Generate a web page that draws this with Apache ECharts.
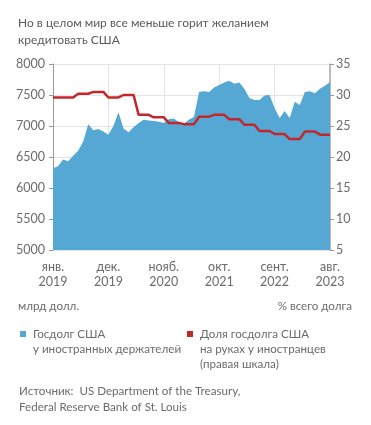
<!DOCTYPE html>
<html><head><meta charset="utf-8">
<script src="https://cdn.jsdelivr.net/npm/echarts@6/dist/echarts.min.js"></script>
<style>html,body{margin:0;padding:0;background:#fff}#c{width:371px;height:425px}</style>
</head><body><div id="c"></div>
<script>
var monthNames = ['янв.','февр.','март','апр.','май','июнь','июль','авг.','сент.','окт.','нояб.','дек.'];
var years = [2019, 2020, 2021, 2022, 2023];
var categories = [];
years.forEach(function(y){ monthNames.forEach(function(m, k){ if (y < 2023 || k <= 7) categories.push(m + '\n' + y); }); });

var foreignHoldings = [6320,6350,6460,6430,6520,6600,6750,7030,6930,6950,6910,6860,7000,7220,6960,6900,6980,7050,7100,7090,7080,7070,7050,7110,7120,7060,7040,7100,7150,7550,7560,7550,7620,7660,7700,7730,7680,7700,7600,7450,7420,7420,7490,7500,7290,7130,7240,7130,7390,7340,7550,7560,7530,7600,7650,7710];
var foreignShare = [29.6,29.6,29.6,29.6,29.6,30.2,30.2,30.2,30.5,30.5,30.5,29.6,29.6,29.6,30.0,30.0,30.0,26.8,26.8,26.8,26.4,26.4,26.4,25.5,25.5,25.5,25.3,25.3,25.3,26.5,26.5,26.5,26.8,26.8,26.8,26.1,26.1,26.1,25.2,25.2,25.2,24.2,24.2,24.2,23.7,23.7,23.7,22.9,22.9,22.9,24.1,24.1,24.1,23.6,23.6,23.6];

var FONT = 'Lato';
var GREY = '#6b6b6b';
var BLUE = '#55a8d4';
var RED = '#c1272d';
var FS = 11.6;

var chart = echarts.init(document.getElementById('c'));
chart.setOption({
  animation: false,
  textStyle: { fontFamily: FONT },
  grid: { left: 53, right: 41, top: 64, bottom: 175 },
  xAxis: {
    type: 'category', data: categories, boundaryGap: false,
    axisLine: { show: false },
    axisTick: { show: false },
    axisLabel: { interval: 10, color: GREY, fontSize: 12.5, fontFamily: FONT, lineHeight: 15, margin: 9 },
    splitLine: { show: true, interval: 10, lineStyle: { color: '#e4e4e4', width: 1 } }
  },
  yAxis: [
    { type: 'value', min: 5000, max: 8000, interval: 500, position: 'left',
      axisLine: { show: true, lineStyle: { color: '#999' } },
      axisTick: { show: true, length: 4, lineStyle: { color: '#999' } },
      axisLabel: { color: GREY, fontSize: 12.5, fontFamily: FONT, margin: 8, formatter: function(v){ return String(v); } },
      splitLine: { lineStyle: { color: '#e4e4e4' } } },
    { type: 'value', min: 5, max: 35, interval: 5, position: 'right',
      axisLine: { show: true, lineStyle: { color: '#aaa', width: 1.5 } },
      axisTick: { show: true, length: 4, lineStyle: { color: '#999' } },
      axisLabel: { color: GREY, fontSize: 12.5, fontFamily: FONT, margin: 6 },
      splitLine: { show: false } }
  ],
  series: [
    { name: 'Госдолг США у иностранных держателей', type: 'line', yAxisIndex: 0, data: foreignHoldings,
      symbol: 'none', lineStyle: { width: 0 }, areaStyle: { color: BLUE, opacity: 1 }, z: 1 },
    { name: 'Доля госдолга США на руках у иностранцев (правая шкала)', type: 'line', yAxisIndex: 1, data: foreignShare,
      symbol: 'none', lineStyle: { width: 2.5, color: RED }, z: 3 }
  ],
  graphic: [
    { type: 'text', left: 18, top: 15, style: { text: 'Но в целом мир все меньше горит желанием\nкредитовать США', fill: '#5a5a5a', font: '12px ' + FONT, lineHeight: 17 } },
    { type: 'text', left: 18, top: 300, style: { text: 'млрд долл.', fill: GREY, font: FS + 'px ' + FONT } },
    { type: 'text', right: 19, top: 300, style: { text: '% всего долга', fill: GREY, font: FS + 'px ' + FONT, align: 'right' } },
    { type: 'rect', shape: { x: 20, y: 331, width: 6, height: 6 }, style: { fill: BLUE } },
    { type: 'text', left: 33, top: 327, style: { text: 'Госдолг США\nу иностранных держателей', fill: GREY, font: FS + 'px ' + FONT, lineHeight: 15 } },
    { type: 'rect', shape: { x: 187, y: 331, width: 6, height: 6 }, style: { fill: RED } },
    { type: 'text', left: 200, top: 327, style: { text: 'Доля госдолга США\nна руках у иностранцев\n(правая шкала)', fill: GREY, font: FS + 'px ' + FONT, lineHeight: 15 } },
    { type: 'text', left: 19, top: 383, style: { text: 'Источник:  US Department of the Treasury,\nFederal Reserve Bank of St. Louis', fill: GREY, font: FS + 'px ' + FONT, lineHeight: 16 } }
  ]
});
</script></body></html>
